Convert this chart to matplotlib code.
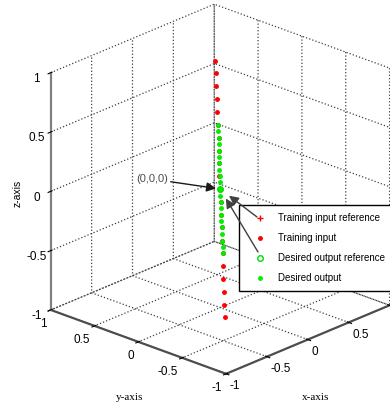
import matplotlib
matplotlib.use('Agg')
import matplotlib.pyplot as plt
from mpl_toolkits.mplot3d import proj3d

# training inputs (red) and desired outputs (green), sampled along z
train_z = [1.10, 0.99, 0.88, 0.77, 0.66, 0.55, 0.44, 0.33, 0.22, 0.11, 0.00,
           -0.11, -0.22, -0.33, -0.44, -0.55, -0.66, -0.77, -0.88, -0.99, -1.10]
train_x = [-0.06, -0.05, -0.05, -0.04, -0.04, -0.03, -0.02, -0.02, -0.01, -0.01, 0.00,
           0.01, 0.01, 0.02, 0.02, 0.03, 0.04, 0.04, 0.05, 0.05, 0.06]
train_y = [0.0] * 21

out_z = [0.55, 0.495, 0.44, 0.385, 0.33, 0.275, 0.22, 0.165, 0.11, 0.055, 0.00,
         -0.055, -0.11, -0.165, -0.22, -0.275, -0.33, -0.385, -0.44, -0.495, -0.55]
out_x = [-0.03, -0.03, -0.02, -0.02, -0.02, -0.015, -0.01, -0.01, -0.005, 0.00, 0.00,
         0.00, 0.005, 0.01, 0.01, 0.015, 0.02, 0.02, 0.02, 0.03, 0.03]
out_y = [0.0] * 21

ref_point = (0.0, 0.0, 0.0)

ticks = [-1, -0.5, 0, 0.5, 1]
tick_labels = ['-1', '-0.5', '0', '0.5', '1']

plt.rcParams['grid.linestyle'] = ':'
plt.rcParams['grid.color'] = '0.25'
plt.rcParams['grid.linewidth'] = 0.9
plt.rcParams['font.family'] = ['Liberation Sans', 'DejaVu Sans']

fig = plt.figure(figsize=(3.9, 4.09), dpi=100)
ax = fig.add_axes([0.051, 0.025, 1.0, 1.0], projection='3d', proj_type='ortho')
ax.view_init(elev=23, azim=-137)
ax.set_box_aspect((1, 1, 1.075), zoom=1.06)

h1, = ax.plot([ref_point[0]], [ref_point[1]], [ref_point[2]], '+', color='red', ms=5,
              label='Training input reference')
h2, = ax.plot(train_x, train_y, train_z, '.', color='red', ms=5, linestyle='none',
              label='Training input')
h3, = ax.plot([ref_point[0]], [ref_point[1]], [ref_point[2]], 'o', mfc='none', mec='#00dd00',
              ms=4, label='Desired output reference')
h4, = ax.plot(out_x, out_y, out_z, '.', color='#00ee00', ms=5, linestyle='none',
              label='Desired output')

for axis in (ax.xaxis, ax.yaxis, ax.zaxis):
    axis.set_pane_color((1, 1, 1, 0))
    axis.pane.set_edgecolor((1, 1, 1, 0))
    axis.line.set_linewidth(1.6)
ax.xaxis.line.set_color('0.3')
ax.yaxis.line.set_color('0.3')
ax.zaxis.line.set_color('0.5')

ax.set_xlim(-1, 1)
ax.set_ylim(-1, 1)
ax.set_zlim(-1, 1)
ax.set_xticks(ticks)
ax.set_yticks(ticks)
ax.set_zticks(ticks)
ax.set_xticklabels(tick_labels, fontsize=8.5, ha='left')
ax.set_yticklabels(tick_labels, fontsize=8.5, ha='right')
ax.set_zticklabels(tick_labels, fontsize=8.5)
ax.xaxis.set_tick_params(pad=-5)
ax.yaxis.set_tick_params(pad=-4)
ax.zaxis.set_tick_params(pad=-2)

fig.text(0.046, 0.528, 'z-axis', rotation=90, fontsize=7.5, ha='center', va='center')
fig.text(0.333, 0.027, 'y-axis', family='Liberation Serif', fontsize=8, ha='center', va='center')
fig.text(0.81, 0.028, 'x-axis', family='Liberation Serif', fontsize=8, ha='center', va='center')

leg = ax.legend(handles=[h1, h2, h3, h4], loc='upper left',
                bbox_to_anchor=(239 / 390, 1 - 205 / 409), bbox_transform=fig.transFigure,
                fontsize=7, numpoints=1, fancybox=False, framealpha=1, edgecolor='black',
                borderaxespad=0, borderpad=0.85, handlelength=2.7, handletextpad=0.5,
                labelspacing=1.02)
leg.get_frame().set_linewidth(1.0)

# arrows pointing at the origin, drawn over the legend
fig.canvas.draw()
ox, oy, _ = proj3d.proj_transform(*ref_point, ax.get_proj())
arrow = dict(arrowstyle='-|>', color='0.1', lw=1.0, mutation_scale=14)
ax.annotate('(0,0,0)', xy=(ox, oy), xycoords='data', xytext=(152 / 390, 1 - 179 / 409),
            textcoords='figure fraction', fontsize=8, ha='center', va='center',
            color='0.3', arrowprops=dict(arrow, shrinkA=0, shrinkB=3), zorder=10)
ax.annotate('', xy=(ox, oy), xycoords='data', xytext=(257 / 390, 1 - 217 / 409),
            textcoords='figure fraction', zorder=10,
            arrowprops=dict(arrow, color='0.25', shrinkA=0, shrinkB=8))
ax.annotate('', xy=(ox, oy), xycoords='data', xytext=(258 / 390, 1 - 252 / 409),
            textcoords='figure fraction', zorder=10,
            arrowprops=dict(arrow, color='0.25', shrinkA=0, shrinkB=8))

fig.savefig('out.png', dpi=100)
